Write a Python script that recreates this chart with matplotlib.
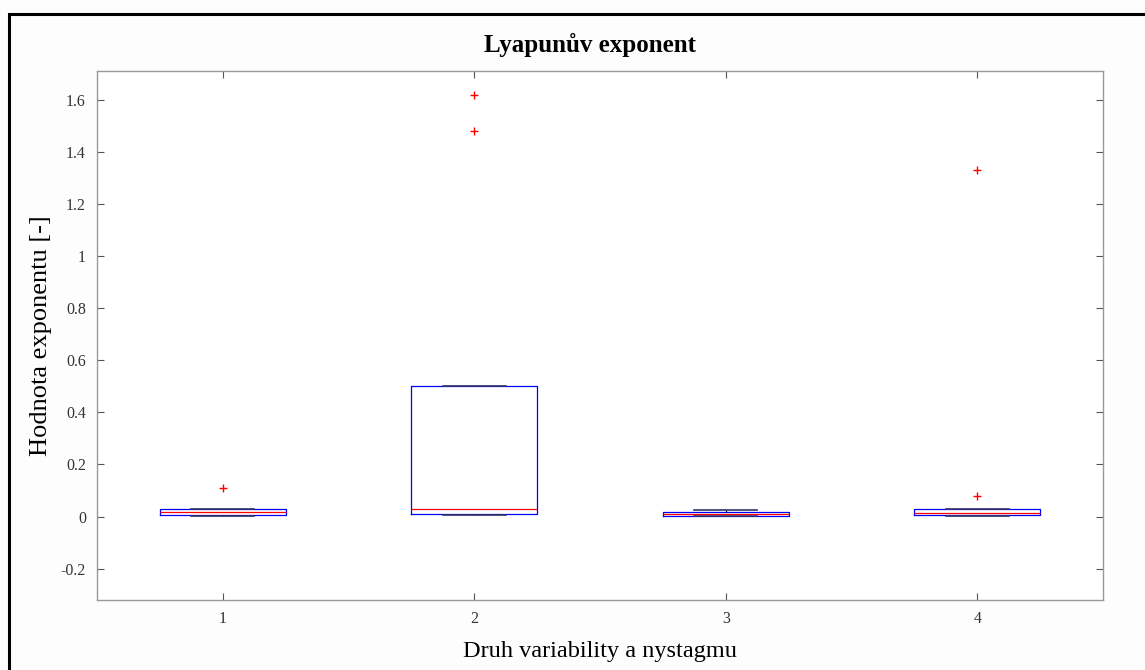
import matplotlib.pyplot as plt
from matplotlib.patches import Rectangle

# data
groups = ['1', '2', '3', '4']
q1 = [0.008, 0.011, 0.004, 0.008]
med = [0.019, 0.030, 0.010, 0.014]
q3 = [0.031, 0.503, 0.016, 0.030]
whislo = [0.004, 0.007, 0.004, 0.001]
whishi = [0.030, 0.503, 0.027, 0.030]
outliers = [[0.111], [1.619, 1.481], [], [0.080, 1.331]]

plt.rcParams['font.family'] = ['Liberation Serif', 'DejaVu Serif']

fig = plt.figure(figsize=(11.45, 6.70), dpi=100)
fig.patch.set_facecolor('#fdfdfd')
# black frame on left and top as in the screenshot
fig.patches.append(Rectangle((9 / 1145, -0.1), 1.2, (1 - 14 / 670) + 0.1,
                             transform=fig.transFigure, fill=False,
                             edgecolor='black', lw=2.2))

ax = fig.add_axes([97 / 1145, 1 - 600 / 670, (1103 - 97) / 1145, (600 - 71) / 670])
ax.set_facecolor('white')

stats = []
for i in range(len(groups)):
    stats.append(dict(label=groups[i], q1=q1[i], med=med[i], q3=q3[i],
                      whislo=whislo[i], whishi=whishi[i], fliers=outliers[i]))

ax.bxp(stats, positions=[1, 2, 3, 4], widths=0.5,
       boxprops=dict(color='blue', lw=0.9),
       medianprops=dict(color='red', lw=0.9),
       whiskerprops=dict(color='black', lw=0.8, ls='--'),
       capprops=dict(color='#333366', lw=1.2),
       capwidths=0.25,
       flierprops=dict(marker='+', markeredgecolor='red', markersize=6, lw=0))

ax.set_xlim(0.5, 4.5)
ax.set_ylim(-0.32, 1.71)
ax.set_yticks([-0.2, 0, 0.2, 0.4, 0.6, 0.8, 1, 1.2, 1.4, 1.6])
ax.set_yticklabels(['-0.2', '0', '0.2', '0.4', '0.6', '0.8', '1', '1.2', '1.4', '1.6'])
ax.tick_params(direction='in', length=5, colors='#555555', labelcolor='#333333',
               labelsize=11.5, top=True, right=True, width=0.8, pad=8)
for s in ax.spines.values():
    s.set_color('#999999')
    s.set_linewidth(1.0)

ax.set_title('Lyapunův exponent', fontsize=18, fontweight='bold', pad=14, x=0.49)
ax.set_xlabel('Druh variability a nystagmu', fontsize=17.5, labelpad=10)
ax.set_ylabel('Hodnota exponentu [-]', fontsize=19, labelpad=6)

fig.savefig('out.png', dpi=100, facecolor=fig.get_facecolor())
